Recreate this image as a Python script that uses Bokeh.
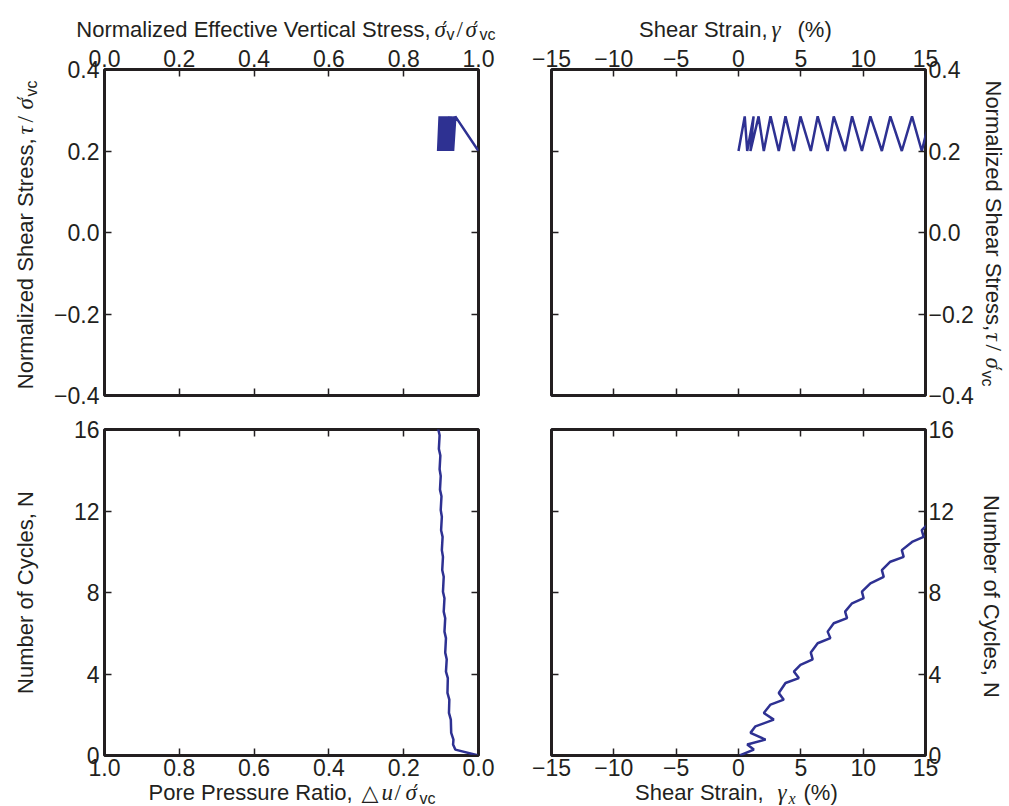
import math
from bokeh.plotting import figure
from bokeh.models import Range1d, FixedTicker, LinearAxis, CustomJSTickFormatter, GridBox
from bokeh.core.properties import value
from bokeh.layouts import column, row
from bokeh.embed import file_html
from bokeh.resources import INLINE

# ---------------- data ----------------
# half-cycle turning points of the cyclic test (stress path / pore pressure)
N_turn = [0.00, 0.29, 0.54, 0.78, 1.11, 1.76, 2.09, 2.74, 3.07, 3.80, 4.12, 4.72,
          5.05, 5.76, 6.08, 6.74, 7.06, 7.72, 8.04, 8.77, 9.10, 9.75, 10.08, 10.73,
          11.06, 11.72, 12.05, 12.72, 13.05, 13.72, 14.05, 14.72, 15.05, 15.72, 16.05]
tau_turn = [0.200, 0.285, 0.200, 0.285, 0.200, 0.285, 0.200, 0.285, 0.200, 0.285,
            0.200, 0.285, 0.200, 0.285, 0.200, 0.285, 0.200, 0.285, 0.200, 0.285,
            0.200, 0.285, 0.200, 0.285, 0.200, 0.285, 0.200, 0.285, 0.200, 0.285,
            0.200, 0.285, 0.200, 0.285, 0.200]
ru_turn = [0.000, 0.062, 0.068, 0.067, 0.073, 0.074, 0.079, 0.078, 0.083, 0.082,
           0.087, 0.085, 0.089, 0.087, 0.091, 0.089, 0.093, 0.091, 0.095, 0.093,
           0.097, 0.095, 0.098, 0.096, 0.100, 0.098, 0.101, 0.099, 0.103, 0.101,
           0.104, 0.102, 0.106, 0.104, 0.108]
# stress-strain loops: shear strain (%) at the low / high stress points
gam_loop = [0.00, 0.50, 0.70, 1.21, 0.96, 1.61, 2.03, 2.57, 3.23, 3.77, 4.44, 4.97,
            5.80, 6.35, 7.15, 7.64, 8.55, 9.11, 9.90, 10.58, 11.50, 12.18, 13.10,
            13.92, 14.70, 15.40]
tau_loop = [0.200, 0.285, 0.200, 0.285, 0.200, 0.285, 0.200, 0.285, 0.200, 0.285,
            0.200, 0.285, 0.200, 0.285, 0.200, 0.285, 0.200, 0.285, 0.200, 0.285,
            0.200, 0.285, 0.200, 0.285, 0.200, 0.285]
# detailed trace of cycles vs shear strain
N_trace = [0.00, 0.29, 0.54, 0.78, 1.11, 1.43, 1.76, 2.09, 2.50, 2.74, 3.07, 3.56,
           3.80, 4.12, 4.45, 4.72, 5.05, 5.51, 5.76, 6.08, 6.49, 6.74, 7.06, 7.47,
           7.72, 8.04, 8.45, 8.77, 9.10, 9.51, 9.75, 10.08, 10.48, 10.73, 11.06, 11.47]
gam_trace = [0.10, 1.23, 0.70, 2.17, 0.96, 1.36, 2.83, 2.03, 2.57, 3.63, 3.23, 3.77,
             4.84, 4.44, 4.97, 5.95, 5.80, 6.35, 7.37, 7.15, 7.64, 8.71, 8.55, 9.11,
             10.04, 9.90, 10.58, 11.65, 11.50, 12.18, 13.25, 13.10, 13.92, 14.85, 14.70, 15.40]

eff_ticks = [0.0, 0.2, 0.4, 0.6, 0.8, 1.0]
tau_ticks = [-0.4, -0.2, 0.0, 0.2, 0.4]
gam_ticks = [-15, -10, -5, 0, 5, 10, 15]
N_ticks = [0, 4, 8, 12, 16]

# ---------------- style ----------------
W, H = 1009, 806
FW, FH = 374, 326
INK = "#231f20"
BLUE = "#2e3192"
SANS = "Liberation Sans"
SERIF = "Liberation Serif"
TICK_PX = "23px"
TITLE = 22
GREEK = 23
SUB = 16
LW = 2.5

FMT1 = "return tick.toFixed(1).replace('-', '\u2212')"
FMT0 = "return tick.toFixed(0).replace('-', '\u2212')"
BLANK = "return ''"


def make_fig(xr, yr, left, right, top, bottom):
    p = figure(frame_width=FW, frame_height=FH, title=None,
               min_border_left=left, min_border_right=right,
               min_border_top=top, min_border_bottom=bottom,
               x_range=xr, y_range=yr, x_axis_location=None, y_axis_location=None,
               toolbar_location=None, output_backend="svg")
    p.outline_line_color = INK
    p.outline_line_width = 3
    p.grid.visible = False
    p.background_fill_color = "white"
    p.border_fill_color = "white"
    return p


def add_axis(p, side, ticks, code, standoff=4):
    labelled = code != BLANK
    ax = LinearAxis(ticker=FixedTicker(ticks=ticks),
                    formatter=CustomJSTickFormatter(code=code))
    ax.axis_line_color = None
    ax.major_tick_in = 7
    ax.major_tick_out = 0
    ax.minor_tick_in = 0
    ax.minor_tick_out = 0
    ax.major_tick_line_color = INK
    ax.major_tick_line_width = 1.5
    ax.major_label_text_font = SANS
    ax.major_label_text_color = INK
    ax.major_label_text_font_size = TICK_PX if labelled else "1px"
    ax.major_label_standoff = standoff if labelled else 0
    p.add_layout(ax, side)


# transparent overlay that carries the axis titles (page pixel coordinates)
ov = figure(width=W, height=H, x_range=Range1d(0, W), y_range=Range1d(0, H),
            title=None, min_border=0, x_axis_location=None, y_axis_location=None,
            toolbar_location=None, output_backend="svg")
ov.outline_line_color = None
ov.grid.visible = False
ov.background_fill_color = None
ov.border_fill_color = None

A = math.pi / 2


def put(gx, gy, t, size=TITLE, font=SANS, style="normal", align="left", angle=0.0):
    # (gx, gy) = baseline anchor in page pixels; correct the renderer's baseline offset
    k = 0.3465 * size
    if angle == 0.0:
        gy -= k
    elif angle > 0:
        gx -= k
    else:
        gx += k
    ov.text(x=[gx], y=[H - gy], text=[t], text_font=value(font),
            text_font_size=value(f"{size}px"), text_font_style=style,
            text_align=align, text_baseline="alphabetic", angle=angle,
            text_color=INK)


# ---------------- top-left: tau vs effective stress ----------------
p1 = make_fig(Range1d(0, 1), Range1d(-0.4, 0.4), 104, 36, 69, 17)
add_axis(p1, "above", eff_ticks, FMT1, 3)
add_axis(p1, "below", eff_ticks, BLANK)
add_axis(p1, "left", tau_ticks, FMT1, 5)
add_axis(p1, "right", tau_ticks, BLANK)
p1.line([1 - r for r in ru_turn], tau_turn, line_color=BLUE, line_width=LW)

put(430, 36.5, "Normalized Effective Vertical Stress,", align="right")
put(434, 36.5, "\u03c3", GREEK, SERIF, "italic")
put(442, 36.5, "\u2032", 21, "DejaVu Sans")
put(446, 40, "v", SUB)
put(456, 36.5, "/", GREEK, SERIF)
put(465, 36.5, "\u03c3", GREEK, SERIF, "italic")
put(473, 36.5, "\u2032", 21, "DejaVu Sans")
put(479, 40, "vc", SUB)

put(33, 138, "Normalized Shear Stress,", align="right", angle=A)
put(33, 134, "\u03c4", GREEK, SERIF, "italic", angle=A)
put(33, 122, "/", GREEK, SERIF, angle=A)
put(33, 109, "\u03c3", GREEK, SERIF, "italic", angle=A)
put(33, 100, "\u2032", 21, "DejaVu Sans", angle=A)
put(36.5, 96, "vc", SUB, angle=A)

# ---------------- top-right: tau vs shear strain ----------------
p2 = make_fig(Range1d(-15, 15), Range1d(-0.4, 0.4), 37, 84, 69, 17)
add_axis(p2, "above", gam_ticks, FMT0, 3)
add_axis(p2, "below", gam_ticks, BLANK)
add_axis(p2, "left", tau_ticks, BLANK)
add_axis(p2, "right", tau_ticks, FMT1, 3)
p2.line(gam_loop, tau_loop, line_color=BLUE, line_width=LW)

put(767, 36.5, "Shear Strain,", align="right")
put(771, 36.5, "\u03b3", GREEK, SERIF, "italic")
put(797, 36.5, "(%)")

put(985, 80, "Normalized Shear Stress,", align="left", angle=-A)
put(985, 332, "\u03c4", GREEK, SERIF, "italic", angle=-A)
put(985, 344, "/", GREEK, SERIF, angle=-A)
put(985, 357, "\u03c3", GREEK, SERIF, "italic", angle=-A)
put(985, 366, "\u2032", 21, "DejaVu Sans", angle=-A)
put(981.5, 370, "vc", SUB, angle=-A)

# ---------------- bottom-left: N vs pore pressure ratio ----------------
p3 = make_fig(Range1d(1.0, 0.0), Range1d(0, 16), 104, 36, 17, 51)
add_axis(p3, "below", eff_ticks, FMT1, 3)
add_axis(p3, "above", eff_ticks, BLANK)
add_axis(p3, "left", N_ticks, FMT0, 5)
add_axis(p3, "right", N_ticks, BLANK)
p3.line(ru_turn, N_turn, line_color=BLUE, line_width=LW)

put(148, 800, "Pore Pressure Ratio,")
put(361, 800, "\u25b3", 22, "DejaVu Sans")
put(381, 800, "u", GREEK, SERIF, "italic")
put(394, 800, "/", GREEK, SERIF)
put(405, 800, "\u03c3", GREEK, SERIF, "italic")
put(413, 800, "\u2032", 21, "DejaVu Sans")
put(419, 803.5, "vc", SUB)

put(33, 592, "Number of Cycles, N", align="center", angle=A)

# ---------------- bottom-right: N vs shear strain ----------------
p4 = make_fig(Range1d(-15, 15), Range1d(0, 16), 37, 84, 17, 51)
add_axis(p4, "below", gam_ticks, FMT0, 3)
add_axis(p4, "above", gam_ticks, BLANK)
add_axis(p4, "left", N_ticks, BLANK)
add_axis(p4, "right", N_ticks, FMT0, 3)
p4.line(gam_trace, N_trace, line_color=BLUE, line_width=LW)

put(763, 800, "Shear Strain,", align="right")
put(777, 800, "\u03b3", GREEK, SERIF, "italic")
put(788, 803.5, "x", SUB, SERIF, "italic")
put(803, 800, "(%)")

put(983, 596, "Number of Cycles, N", align="center", angle=-A)

main = column(row(p1, p2), row(p3, p4))
layout = GridBox(children=[(main, 0, 0), (ov, 0, 0)])
html = file_html(layout, INLINE)
html = html.replace("<body>", "<body style=\"margin:0;background:white\">")
open("out.html", "w").write(html)
